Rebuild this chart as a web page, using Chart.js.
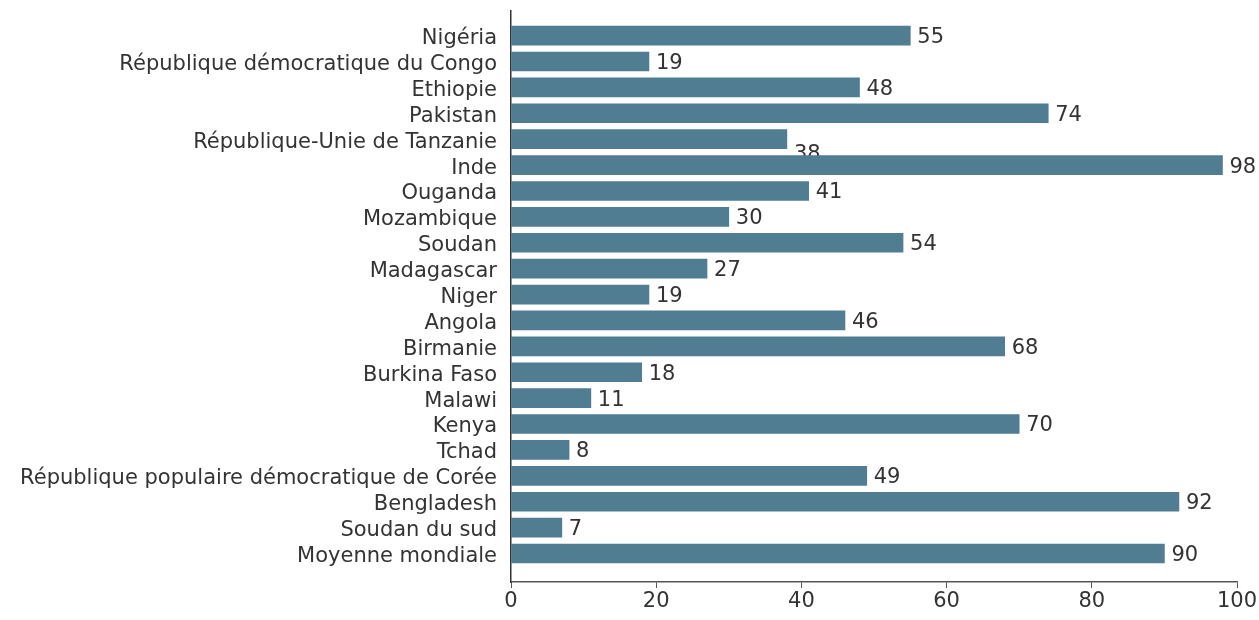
<!DOCTYPE html>
<html>
<head>
<meta charset="utf-8">
<script src="https://cdn.jsdelivr.net/npm/chart.js@4"></script>
<style>
  body { margin: 0; background: #fff; }
  #wrap { width: 1259px; height: 620px; }
</style>
</head>
<body>
<div id="wrap"><canvas id="barChart" width="1259" height="620"></canvas></div>
<script>
const countries = [
  'Nigéria', 'République démocratique du Congo', 'Ethiopie', 'Pakistan',
  'République-Unie de Tanzanie', 'Inde', 'Ouganda', 'Mozambique', 'Soudan',
  'Madagascar', 'Niger', 'Angola', 'Birmanie', 'Burkina Faso', 'Malawi',
  'Kenya', 'Tchad', 'République populaire démocratique de Corée',
  'Bengladesh', 'Soudan du sud', 'Moyenne mondiale'
];
const values = [55, 19, 48, 74, 38, 98, 41, 30, 54, 27, 19, 46, 68, 18, 11, 70, 8, 49, 92, 7, 90];
const xTicks = [0, 20, 40, 60, 80, 100];

const FONT = 'DejaVu Sans, Verdana, sans-serif';
const SIZE = 21;
const TEXT = '#333333';
const BAR = '#517d93';

// in the original, this label slipped down under the next bar
const droppedLabel = 'République-Unie de Tanzanie';

// values are drawn before the bars, so a bar can cover a label
const valueLabels = {
  id: 'valueLabels',
  beforeDatasetsDraw(chart) {
    const ctx = chart.ctx;
    const meta = chart.getDatasetMeta(0);
    ctx.save();
    ctx.font = SIZE + 'px ' + FONT;
    ctx.fillStyle = TEXT;
    ctx.textAlign = 'left';
    ctx.textBaseline = 'middle';
    meta.data.forEach((bar, i) => {
      let y = bar.y + 2;
      if (countries[i] === droppedLabel) y += 13;
      ctx.fillText(values[i], bar.x + 7, y);
    });
    ctx.restore();
  }
};

const ctx = document.getElementById('barChart').getContext('2d');
new Chart(ctx, {
  type: 'bar',
  data: {
    datasets: [{
      data: values.map((v, i) => ({ x: v, y: i })),
      backgroundColor: BAR,
      barThickness: 19
    }]
  },
  options: {
    indexAxis: 'y',
    responsive: false,
    animation: false,
    events: [],
    layout: { padding: { top: 11, right: 22, left: 0, bottom: 0 } },
    plugins: { legend: { display: false }, tooltip: { enabled: false } },
    scales: {
      x: {
        type: 'linear',
        min: 0,
        max: 100,
        afterBuildTicks: s => { s.ticks = xTicks.map(v => ({ value: v })); },
        afterFit: s => { s.height = 38; s.paddingLeft = 0; s.paddingRight = 0; },
        grid: { drawOnChartArea: false, drawTicks: true, tickLength: 6, color: '#555' },
        border: { display: true, color: '#555', width: 1.5 },
        ticks: { color: TEXT, font: { family: FONT, size: SIZE }, padding: 1, maxRotation: 0 }
      },
      y: {
        type: 'linear',
        reverse: true,
        offset: false,
        bounds: 'data',
        min: -0.95,
        max: 21.1,
        afterBuildTicks: s => { s.ticks = countries.map((c, i) => ({ value: i })); },
        afterFit: s => { s.width = 511; s.paddingTop = 0; s.paddingBottom = 0; },
        grid: { display: false, drawTicks: false, offset: false },
        border: { display: true, color: '#333', width: 1.5 },
        ticks: {
          color: TEXT,
          font: { family: FONT, size: SIZE },
          padding: 14,
          labelOffset: 3,
          autoSkip: false,
          callback: v => countries[v] ?? ''
        }
      }
    }
  },
  plugins: [valueLabels]
});
</script>
</body>
</html>
